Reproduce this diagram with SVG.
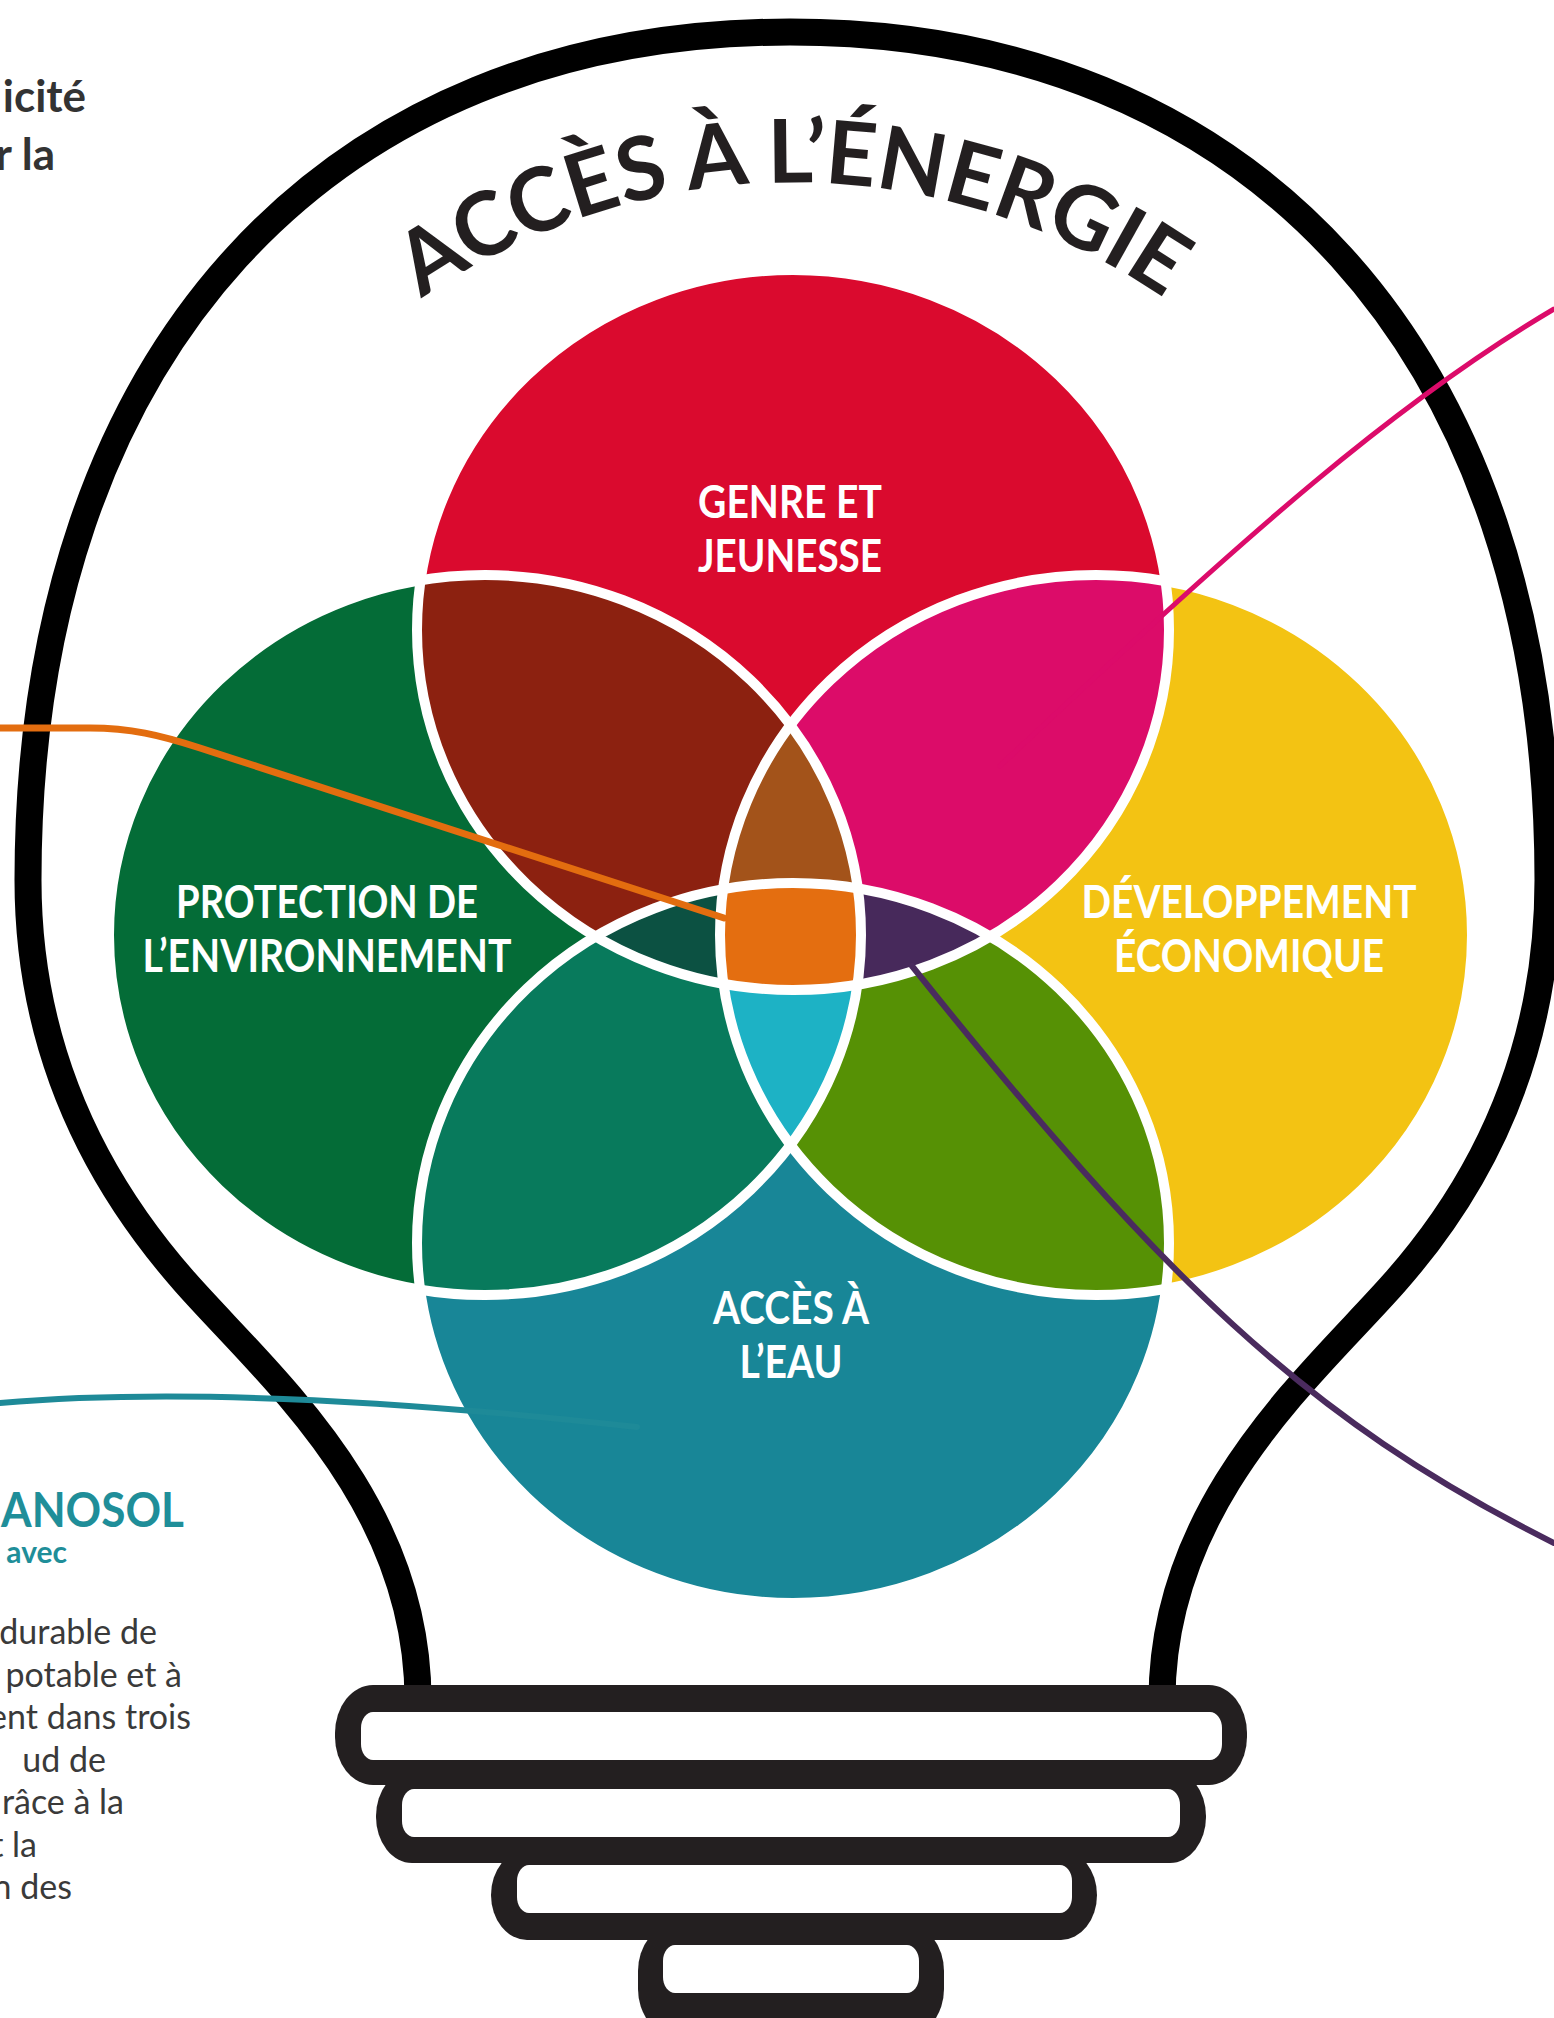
<svg xmlns="http://www.w3.org/2000/svg" width="1554" height="2018" viewBox="0 0 1554 2018">
<style>
.lbl{font-family:Lato,"Liberation Sans",sans-serif;font-weight:700;font-size:45px;fill:#fff;text-anchor:middle}
.title{font-family:Lato,"Liberation Sans",sans-serif;font-weight:700;font-size:88px;fill:#231F20}
.body{font-family:Lato,"Liberation Sans",sans-serif;font-size:34px;fill:#3a3a3a;text-anchor:end}
.head{font-family:Lato,"Liberation Sans",sans-serif;font-weight:700;font-size:44px;fill:#333;text-anchor:end}
.teal{font-family:Lato,"Liberation Sans",sans-serif;font-weight:700;fill:#1F8E99}
.conn{fill:none;stroke-linecap:round}
.sep{fill:none;stroke:#fff;stroke-width:10}
.base{fill:#231F20}
.hole{fill:#fff}
</style>
<defs>
<clipPath id="cT"><ellipse cx="793" cy="630" rx="376" ry="360"/></clipPath>
<clipPath id="cB"><ellipse cx="793" cy="1243" rx="376" ry="360"/></clipPath>
<clipPath id="cL"><ellipse cx="485" cy="935" rx="376" ry="360"/></clipPath>
<clipPath id="cR"><ellipse cx="1096" cy="935" rx="376" ry="360"/></clipPath>
<path id="arc" d="M 294,415 A 652,652 0 0 1 1292,415"/>
</defs>
<rect width="1554" height="2018" fill="#fff"/>

<g id="bulb">
<path d="M 418,1700 C 418,1500 265,1373 185,1282 C 95,1180 28,1050 28,880 C 28,350 330,32 790,32 C 1250,32 1548,350 1548,880 C 1548,1050 1485,1180 1395,1282 C 1315,1373 1162,1500 1162,1700" fill="none" stroke="#000" stroke-width="27"/>
<rect class="base" x="638" y="1925" width="306" height="110" rx="36" ry="46"/>
<rect class="base" x="491" y="1850" width="606" height="90" rx="36" ry="46"/>
<rect class="base" x="376" y="1770" width="830" height="93" rx="36" ry="46"/>
<rect class="base" x="335" y="1685" width="912" height="100" rx="38" ry="48"/>
<rect class="hole" x="361" y="1712" width="861" height="48" rx="12" ry="16"/>
<rect class="hole" x="402" y="1789" width="778" height="48" rx="12" ry="16"/>
<rect class="hole" x="517" y="1865" width="555" height="48" rx="12" ry="16"/>
<rect class="hole" x="663" y="1945" width="256" height="48" rx="12" ry="16"/>
</g>

<text id="title" class="title"><textPath href="#arc" startOffset="50%" text-anchor="middle" textLength="790" lengthAdjust="spacing">ACCÈS À L’ÉNERGIE</textPath></text>

<g id="venn">
<g id="node-genre"><ellipse cx="793" cy="630" rx="376" ry="360" fill="#DA0A2E"/></g>
<g id="node-environnement"><ellipse cx="485" cy="935" rx="376" ry="360" fill="#046C37"/></g>
<g id="node-economie"><ellipse cx="1096" cy="935" rx="376" ry="360" fill="#F3C313"/></g>
<g id="node-eau"><ellipse cx="793" cy="1243" rx="376" ry="360" fill="#188697"/></g>
<g id="overlaps">
<g clip-path="url(#cT)"><ellipse cx="485" cy="935" rx="376" ry="360" fill="#8C2110"/><ellipse cx="1096" cy="935" rx="376" ry="360" fill="#DC0C69"/></g>
<g clip-path="url(#cB)"><ellipse cx="485" cy="935" rx="376" ry="360" fill="#087A5C"/><ellipse cx="1096" cy="935" rx="376" ry="360" fill="#569105"/></g>
<g clip-path="url(#cL)"><g clip-path="url(#cR)"><ellipse cx="793" cy="630" rx="376" ry="360" fill="#A3531A"/><ellipse cx="793" cy="1243" rx="376" ry="360" fill="#1DB2C5"/></g></g>
<g clip-path="url(#cT)"><g clip-path="url(#cB)"><ellipse cx="485" cy="935" rx="376" ry="360" fill="#0C5142"/><ellipse cx="1096" cy="935" rx="376" ry="360" fill="#47295B"/></g></g>
<g clip-path="url(#cT)"><g clip-path="url(#cB)"><g clip-path="url(#cL)"><ellipse cx="1096" cy="935" rx="376" ry="360" fill="#E46E10"/></g></g></g>
</g>
<g id="separators">
<ellipse class="sep" cx="793" cy="630" rx="376" ry="360"/>
<ellipse class="sep" cx="485" cy="935" rx="376" ry="360"/>
<ellipse class="sep" cx="1096" cy="935" rx="376" ry="360"/>
<ellipse class="sep" cx="793" cy="1243" rx="376" ry="360"/>
</g>
<text class="lbl" x="790" y="518" textLength="184" lengthAdjust="spacingAndGlyphs">GENRE ET</text>
<text class="lbl" x="790" y="572" textLength="184" lengthAdjust="spacingAndGlyphs">JEUNESSE</text>
<text class="lbl" x="327" y="918" textLength="302" lengthAdjust="spacingAndGlyphs">PROTECTION DE</text>
<text class="lbl" x="327" y="972" textLength="369" lengthAdjust="spacingAndGlyphs">L’ENVIRONNEMENT</text>
<text class="lbl" x="1249" y="918" textLength="335" lengthAdjust="spacingAndGlyphs">DÉVELOPPEMENT</text>
<text class="lbl" x="1249" y="972" textLength="270" lengthAdjust="spacingAndGlyphs">ÉCONOMIQUE</text>
<text class="lbl" x="791" y="1324" textLength="156" lengthAdjust="spacingAndGlyphs">ACCÈS À</text>
<text class="lbl" x="791" y="1378" textLength="103" lengthAdjust="spacingAndGlyphs">L’EAU</text>
</g>

<g id="connectors">
<path class="conn" d="M 0,728 L 90,728 C 130,728 160,735 200,748 L 724,918" stroke="#E36D0F" stroke-width="7"/>
<path class="conn" d="M 1554,309 C 1400,400 1250,530 1000,766" stroke="#DC0B6A" stroke-width="5"/>
<path class="conn" d="M 912,966 C 1162,1278 1304,1418 1554,1543" stroke="#4A2B5E" stroke-width="6"/>
<path class="conn" d="M 0,1403 C 150,1390 350,1395 637,1427" stroke="#1E8A98" stroke-width="6"/>
</g>

<g id="side-text">
<text class="head" x="86" y="112">icité</text>
<text class="head" x="55" y="170">r la</text>
<text class="teal" x="1" y="1527" font-size="47" textLength="183" lengthAdjust="spacingAndGlyphs">ANOSOL</text>
<text class="teal" x="67" y="1563" font-size="30" text-anchor="end">avec</text>
<text class="body" x="157" y="1644">durable de</text>
<text class="body" x="182" y="1687">potable et à</text>
<text class="body" x="191" y="1729">ent dans trois</text>
<text class="body" x="106" y="1772">ud de</text>
<text class="body" x="124" y="1814">râce à la</text>
<text class="body" x="37" y="1857">t la</text>
<text class="body" x="72" y="1899">n des</text>
</g>
</svg>
